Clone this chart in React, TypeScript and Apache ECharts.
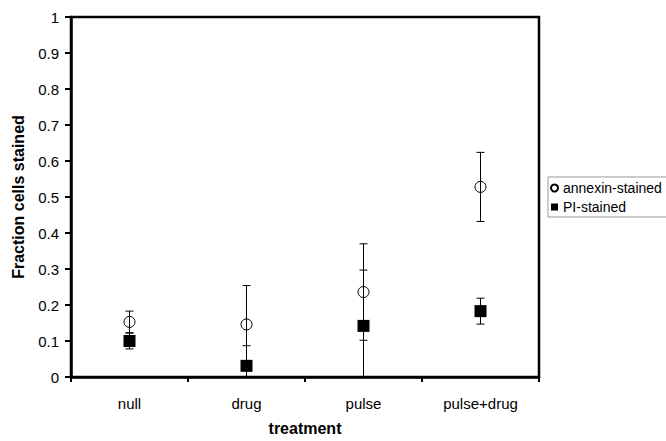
import React, { useEffect, useRef } from 'react';
import * as echarts from 'echarts';

const categories = ['null', 'drug', 'pulse', 'pulse+drug'];
const annexinValues = [0.153, 0.146, 0.236, 0.528];
const annexinErrors = [0.030, 0.108, 0.134, 0.096];
const piValues = [0.100, 0.031, 0.142, 0.183];
const piErrors = [0.022, 0.056, 0.155, 0.036];

const FONT = '"Liberation Sans", Arial, sans-serif';

const errorRender = (params: any, api: any) => {
  const x = api.value(0);
  const v = api.value(1);
  const e = api.value(2);
  const hi = v + e;
  const lo = Math.max(v - e, 0);
  const pHi = api.coord([x, hi]);
  const pLo = api.coord([x, lo]);
  const cap = 4;
  const st = { stroke: '#000', lineWidth: 1 };
  const children: any[] = [
    { type: 'line', shape: { x1: pHi[0], y1: pHi[1], x2: pLo[0], y2: pLo[1] }, style: st },
    { type: 'line', shape: { x1: pHi[0] - cap, y1: pHi[1], x2: pHi[0] + cap, y2: pHi[1] }, style: st },
  ];
  if (v - e >= 0) {
    children.push({ type: 'line', shape: { x1: pLo[0] - cap, y1: pLo[1], x2: pLo[0] + cap, y2: pLo[1] }, style: st });
  }
  return { type: 'group', children };
};

export default function App() {
  const ref = useRef<HTMLDivElement>(null);
  useEffect(() => {
    const chart = echarts.init(ref.current!, null, { renderer: 'svg' });
    chart.setOption({
      animation: false,
      backgroundColor: '#fff',
      textStyle: { fontFamily: FONT },
      grid: { left: 71, right: 127, top: 17, bottom: 59, show: true, borderColor: '#000', borderWidth: 2.5 },
      legend: {
        orient: 'vertical',
        left: 548,
        top: 177,
        borderColor: '#999',
        borderWidth: 1,
        padding: [4, 40, 3, 2],
        itemGap: 5,
        itemWidth: 7,
        itemHeight: 7,
        textStyle: { fontFamily: FONT, fontSize: 14, color: '#000' },
        data: [
          { name: 'annexin-stained', icon: 'circle' },
          { name: 'PI-stained', icon: 'rect' },
        ],
      },
      xAxis: {
        type: 'category',
        data: categories,
        boundaryGap: true,
        name: 'treatment',
        nameLocation: 'middle',
        nameGap: 43,
        nameTextStyle: { fontFamily: FONT, fontSize: 16, fontWeight: 'bold', color: '#000' },
        axisLine: { lineStyle: { color: '#000', width: 2.5 } },
        axisTick: { show: true, length: 5, alignWithLabel: false, lineStyle: { color: '#000', width: 2 } },
        axisLabel: { fontFamily: FONT, fontSize: 15, color: '#000', margin: 19 },
        splitLine: { show: false },
      },
      yAxis: {
        type: 'value',
        min: 0,
        max: 1,
        interval: 0.1,
        name: 'Fraction cells stained',
        nameLocation: 'middle',
        nameGap: 45,
        nameTextStyle: { fontFamily: FONT, fontSize: 16, fontWeight: 'bold', color: '#000' },
        axisLine: { show: true, lineStyle: { color: '#000', width: 2.5 } },
        axisTick: { show: true, length: 6, lineStyle: { color: '#000', width: 2 } },
        axisLabel: { fontFamily: FONT, fontSize: 15, color: '#000', margin: 12 },
        splitLine: { show: false },
      },
      series: [
        {
          type: 'custom',
          name: 'annexin-err',
          renderItem: errorRender,
          encode: { x: 0, y: 1 },
          data: categories.map((_, i) => [i, annexinValues[i], annexinErrors[i]]),
          z: 2,
          silent: true,
        },
        {
          type: 'custom',
          name: 'pi-err',
          renderItem: errorRender,
          encode: { x: 0, y: 1 },
          data: categories.map((_, i) => [i, piValues[i], piErrors[i]]),
          z: 2,
          silent: true,
        },
        {
          type: 'scatter',
          name: 'annexin-stained',
          symbol: 'circle',
          symbolSize: 11,
          data: annexinValues,
          itemStyle: { color: 'rgba(255,255,255,0)', borderColor: '#000', borderWidth: 1, opacity: 1 },
          z: 3,
        },
        {
          type: 'scatter',
          name: 'PI-stained',
          symbol: 'rect',
          symbolSize: 12,
          data: piValues,
          itemStyle: { color: '#000', opacity: 1 },
          z: 3,
        },
      ],
    });
    return () => chart.dispose();
  }, []);
  return <div ref={ref} style={{ position: 'fixed', left: 0, top: 0, width: 666, height: 441 }} />;
}
